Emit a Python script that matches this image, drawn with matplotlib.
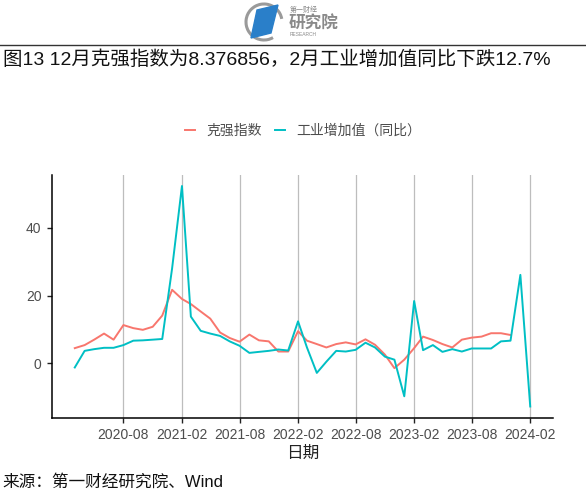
import matplotlib.pyplot as plt
import matplotlib.dates as mdates
import pandas as pd
from matplotlib.lines import Line2D
from matplotlib.patches import Arc, Polygon

plt.rcParams["font.family"] = ["Liberation Sans", "Noto Sans CJK SC", "DejaVu Sans"]

# monthly series, 2020-03 .. 2024-02
months = pd.date_range("2020-03-01", "2024-02-01", freq="MS")

keqiang = [
    4.5, 5.4, 7.0, 8.8, 7.0, 11.3, 10.4, 9.9, 10.8, 14.1,
    21.7, 19.0, 17.5, 15.3, 13.2, 9.1, 7.5, 6.4, 8.5, 6.8, 6.5, 3.5,
    3.5, 9.5, 6.7, 5.7, 4.7, 5.7, 6.2, 5.6, 7.1, 5.5, 2.6, -1.4,
    1.1, 4.5, 7.9, 6.9, 5.7, 4.7, 7.0, 7.6, 7.9, 8.9, 8.9, 8.376856,
]
industry = [
    -1.2, 3.7, 4.2, 4.6, 4.6, 5.4, 6.7, 6.8, 7.0, 7.2,
    28.0, 52.3, 13.8, 9.6, 8.8, 8.1, 6.5, 5.2, 3.1, 3.4, 3.7, 4.1,
    3.8, 12.4, 4.7, -2.8, 0.5, 3.7, 3.5, 4.0, 6.1, 4.7, 2.0, 1.1,
    -9.7, 18.4, 3.9, 5.4, 3.4, 4.2, 3.5, 4.4, 4.4, 4.4, 6.5, 6.7,
    26.1, -12.7,
]
series_names = ["克强指数", "工业增加值（同比）"]
series_colors = ["#F8766D", "#00BFC4"]
x_ticks = pd.date_range("2020-08-01", "2024-02-01", freq="6MS")

title = "图13 12月克强指数为8.376856，2月工业增加值同比下跌12.7%"
source = "来源：第一财经研究院、Wind"

W, H = 586, 500
fig = plt.figure(figsize=(W / 100, H / 100), dpi=100)

# header logo
lax = fig.add_axes([240 / W, 1 - 45 / H, 110 / W, 45 / H])
lax.set_xlim(0, 110)
lax.set_ylim(45, 0)
lax.axis("off")
lax.add_patch(Arc((24, 22), 36, 36, theta1=60, theta2=350, color="#9a9a9a", lw=2.2))
lax.add_patch(Polygon([(17, 10), (38, 5), (31, 33), (11, 38)], closed=True, color="#2a7fc9"))
lax.text(50, 10, "第一财经", fontsize=5, color="#888888", va="center", ha="left")
lax.text(49, 24, "研究院", fontsize=12, color="#8a8a8a", va="center", ha="left", weight="bold")
lax.text(50, 35, "RESEARCH", fontsize=3.5, color="#8a8a8a", va="center", ha="left")

fig.add_artist(Line2D([0, 1], [1 - 44.5 / H] * 2, color="#333333", lw=1.0))
fig.text(3 / W, 1 - 60 / H, title, fontsize=14, va="center", ha="left", color="#111111")

# main plot
ax = fig.add_axes([52 / W, 1 - 417.5 / H, 501 / W, 242.5 / H])
for vals, name, color in zip([keqiang, industry], series_names, series_colors):
    ax.plot(months[: len(vals)], vals, color=color, lw=1.4, label=name)

x0, x1 = mdates.date2num(months[0]), mdates.date2num(months[-1])
pad = (x1 - x0) * 0.05
ax.set_xlim(x0 - pad, x1 + pad)
lo = min(min(keqiang), min(industry))
hi = max(max(keqiang), max(industry))
ypad = (hi - lo) * 0.05
ax.set_ylim(lo - ypad, hi + ypad)

ax.set_yticks([0, 20, 40])
ax.set_xticks(x_ticks)
ax.xaxis.set_major_formatter(mdates.DateFormatter("%Y-%m"))
ax.grid(axis="x", color="#BDBDBD", lw=0.9)
ax.set_axisbelow(True)
for side in ["top", "right"]:
    ax.spines[side].set_visible(False)
for side in ["left", "bottom"]:
    ax.spines[side].set_linewidth(1.1)
ax.tick_params(direction="out", length=3.5, width=1.0, color="#222222",
               labelsize=10, labelcolor="#4D4D4D", pad=4)
ax.set_xlabel("日期", fontsize=12, color="#222222", labelpad=3)

fig.legend(loc="center", bbox_to_anchor=(303 / W, 1 - 131 / H), ncol=2, frameon=False,
           fontsize=10, labelcolor="#4D4D4D", handlelength=0.75, handletextpad=0.8,
           columnspacing=0.9)

fig.text(2 / W, 1 - 482 / H, source, fontsize=12, va="center", ha="left", color="#111111")

fig.savefig("out.png", dpi=100)
